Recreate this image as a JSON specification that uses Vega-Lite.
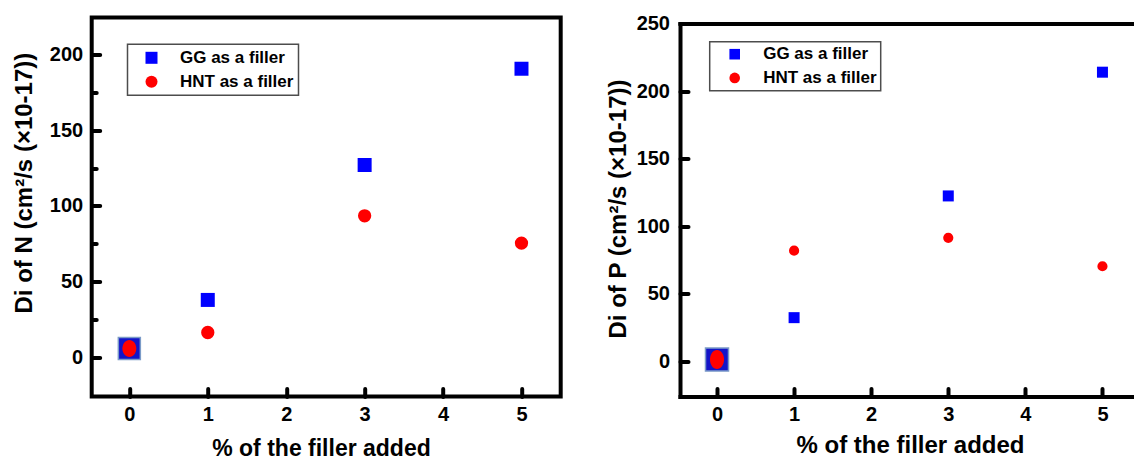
{
  "$schema": "https://vega.github.io/schema/vega-lite/v6.json",
  "autosize": {"type": "none"},
  "padding": {"left": 91.7, "top": 17.5, "right": 1042.3, "bottom": 441.5},
  "background": "white",
  "bounds": "flush",
  "spacing": 119.3,
  "config": {
    "font": "Liberation Sans",
    "view": {"stroke": null},
    "axis": {
      "labelFont": "Liberation Sans", "labelFontWeight": "bold", "labelFontSize": 20, "labelColor": "black",
      "titleFont": "Liberation Sans", "titleFontWeight": "bold", "titleColor": "black",
      "grid": false, "tickColor": "black", "domainColor": "black", "tickWidth": 4, "domainWidth": 4,
      "tickCap": "round", "domainCap": "square", "labelFlush": false, "labelOverlap": false
    },
    "legend": {
      "labelFont": "Liberation Sans", "labelFontWeight": "bold", "labelFontSize": 17, "labelColor": "black",
      "strokeWidth": 1.5
    }
  },
  "datasets": {
    "N": [
      {"pct": 0, "value": 6, "series": "GG as a filler"},
      {"pct": 1, "value": 38, "series": "GG as a filler"},
      {"pct": 3, "value": 127, "series": "GG as a filler"},
      {"pct": 5, "value": 190.5, "series": "GG as a filler"},
      {"pct": 0, "value": 6, "series": "HNT as a filler"},
      {"pct": 1, "value": 16.5, "series": "HNT as a filler"},
      {"pct": 3, "value": 93.5, "series": "HNT as a filler"},
      {"pct": 5, "value": 75.5, "series": "HNT as a filler"}
    ],
    "P": [
      {"pct": 0, "value": 1.5, "series": "GG as a filler"},
      {"pct": 1, "value": 32.5, "series": "GG as a filler"},
      {"pct": 3, "value": 122.5, "series": "GG as a filler"},
      {"pct": 5, "value": 214, "series": "GG as a filler"},
      {"pct": 0, "value": 1.5, "series": "HNT as a filler"},
      {"pct": 1, "value": 82, "series": "HNT as a filler"},
      {"pct": 3, "value": 91.5, "series": "HNT as a filler"},
      {"pct": 5, "value": 70.5, "series": "HNT as a filler"}
    ]
  },
  "resolve": {
    "scale": {"color": "independent", "shape": "independent", "size": "independent"},
    "legend": {"color": "independent", "shape": "independent"}
  },
  "hconcat": [
    {
      "width": 469,
      "height": 379,
      "data": {"name": "N"},
      "view": {"stroke": "black", "strokeWidth": 4},
      "mark": {"type": "point", "filled": true, "opacity": 1},
      "encoding": {
        "x": {
          "field": "pct", "type": "quantitative",
          "scale": {"domain": [-0.48, 5.5], "nice": false, "zero": false},
          "axis": {
            "values": [0, 0.5, 1, 1.5, 2, 2.5, 3, 3.5, 4, 4.5, 5],
            "format": "d",
            "labelExpr": "datum.value % 1 === 0 ? datum.label : ''",
            "tickSize": {"condition": {"test": "datum.value % 1 === 0", "value": -8}, "value": -4.5},
            "labelPadding": 16, "domain": false,
            "title": "% of the filler added", "titleFontSize": 23,
            "titleX": 229.3, "titleY": 58.5, "titleBaseline": "alphabetic", "titleAlign": "center"
          }
        },
        "y": {
          "field": "value", "type": "quantitative",
          "scale": {"domain": [-25.7, 224.3], "nice": false, "zero": false},
          "axis": {
            "values": [0, 25, 50, 75, 100, 125, 150, 175, 200],
            "labelExpr": "datum.value % 50 === 0 ? datum.label : ''",
            "tickSize": {"condition": {"test": "datum.value % 50 === 0", "value": -8}, "value": -4.5},
            "labelPadding": 17, "domain": false,
            "title": "Di of N (cm²/s (×10-17))", "titleFontSize": 24,
            "titleX": -67.5, "titleY": 165.1, "titleBaseline": "middle", "titleAlign": "center", "titleAngle": 270
          }
        },
        "color": {
          "field": "series", "type": "nominal",
          "scale": {"domain": ["GG as a filler", "HNT as a filler"], "range": ["#0000ff", "#ff0000"]},
          "condition": {"test": "datum.pct === 0 && datum.series === 'GG as a filler'", "value": "#1414c8"},
          "legend": {
            "title": null, "orient": "none", "legendX": 35.8, "legendY": 26.8,
            "strokeColor": "#4d4d4d", "padding": 5, "symbolOffset": 10.5,
            "labelOffset": 20, "rowPadding": 6, "symbolSize": 144, "symbolStrokeWidth": 0
          }
        },
        "shape": {
          "field": "series", "type": "nominal",
          "scale": {"domain": ["GG as a filler", "HNT as a filler"], "range": ["square", "circle"]},
          "condition": {"test": "datum.pct === 0 && datum.series === 'HNT as a filler'", "value": "M -0.82 0 A 0.82 1 0 1 0 0.82 0 A 0.82 1 0 1 0 -0.82 0 Z"},
          "legend": {
            "title": null, "orient": "none", "legendX": 35.8, "legendY": 26.8,
            "strokeColor": "#4d4d4d", "padding": 5, "symbolOffset": 10.5,
            "labelOffset": 20, "rowPadding": 6, "symbolSize": 144, "symbolStrokeWidth": 0
          }
        },
        "size": {
          "condition": [
            {"test": "datum.pct === 0 && datum.series === 'GG as a filler'", "value": 484},
            {"test": "datum.pct === 0", "value": 289},
            {"test": "datum.series === 'GG as a filler'", "value": 196}
          ],
          "value": 177
        },
        "stroke": {
          "condition": {"test": "datum.pct === 0 && datum.series === 'GG as a filler'", "value": "#7b9bc8"},
          "value": null
        },
        "strokeWidth": {
          "condition": {"test": "datum.pct === 0 && datum.series === 'GG as a filler'", "value": 1.5},
          "value": 0
        }
      }
    },
    {
      "width": 461,
      "height": 379,
      "data": {"name": "P"},
      "resolve": {"axis": {"x": "independent"}},
      "layer": [
        {
          "mark": {"type": "point", "filled": true, "opacity": 1},
          "encoding": {
            "x": {
              "field": "pct", "type": "quantitative",
              "scale": {"domain": [-0.48, 5.5], "nice": false, "zero": false},
              "axis": {
                "orient": "bottom",
                "values": [0, 0.5, 1, 1.5, 2, 2.5, 3, 3.5, 4, 4.5, 5],
                "format": "d",
                "labelExpr": "datum.value % 1 === 0 ? datum.label : ''",
                "tickSize": {"condition": {"test": "datum.value % 1 === 0", "value": -8}, "value": -4.5},
                "labelPadding": 15.5, "domain": true,
                "title": "% of the filler added", "titleFontSize": 24,
                "titleX": 230, "titleY": 55.5, "titleBaseline": "alphabetic", "titleAlign": "center"
              }
            },
            "y": {
              "field": "value", "type": "quantitative",
              "scale": {"domain": [-25.8, 250], "range": [379, 6], "nice": false, "zero": false},
              "axis": {
                "values": [0, 25, 50, 75, 100, 125, 150, 175, 200, 225, 250],
                "labelExpr": "datum.value % 50 === 0 ? datum.label : ''",
                "tickSize": {"condition": {"test": "datum.value % 50 === 0", "value": -8}, "value": -4.5},
                "labelPadding": 18.5, "domain": true,
                "title": "Di of P (cm²/s (×10-17))", "titleFontSize": 24,
                "titleX": -61.2, "titleY": 191, "titleBaseline": "middle", "titleAlign": "center", "titleAngle": 270
              }
            },
            "color": {
              "field": "series", "type": "nominal",
              "scale": {"domain": ["GG as a filler", "HNT as a filler"], "range": ["#0000ff", "#ff0000"]},
              "condition": {"test": "datum.pct === 0 && datum.series === 'GG as a filler'", "value": "#1414c8"},
              "legend": {
                "title": null, "orient": "none", "legendX": 29.7, "legendY": 24.2,
                "strokeColor": "#4d4d4d", "padding": 4, "symbolOffset": 12.5,
                "labelOffset": 20, "rowPadding": 5.7, "symbolSize": 112, "symbolStrokeWidth": 0
              }
            },
            "shape": {
              "field": "series", "type": "nominal",
              "scale": {"domain": ["GG as a filler", "HNT as a filler"], "range": ["square", "circle"]},
              "condition": {"test": "datum.pct === 0 && datum.series === 'HNT as a filler'", "value": "M -0.74 0 A 0.74 1 0 1 0 0.74 0 A 0.74 1 0 1 0 -0.74 0 Z"},
              "legend": {
                "title": null, "orient": "none", "legendX": 29.7, "legendY": 24.2,
                "strokeColor": "#4d4d4d", "padding": 4, "symbolOffset": 12.5,
                "labelOffset": 20, "rowPadding": 5.7, "symbolSize": 112, "symbolStrokeWidth": 0
              }
            },
            "size": {
              "condition": [
                {"test": "datum.pct === 0 && datum.series === 'GG as a filler'", "value": 529},
                {"test": "datum.pct === 0", "value": 361},
                {"test": "datum.series === 'GG as a filler'", "value": 121}
              ],
              "value": 104
            },
            "stroke": {
              "condition": {"test": "datum.pct === 0 && datum.series === 'GG as a filler'", "value": "#7b9bc8"},
              "value": null
            },
            "strokeWidth": {
              "condition": {"test": "datum.pct === 0 && datum.series === 'GG as a filler'", "value": 1.5},
              "value": 0
            }
          }
        },
        {
          "mark": {"type": "point", "opacity": 0},
          "encoding": {
            "x": {
              "field": "pct", "type": "quantitative",
              "axis": {"orient": "top", "domain": true, "ticks": false, "labels": false, "title": null, "offset": -6}
            },
            "y": {"field": "value", "type": "quantitative"}
          }
        }
      ]
    }
  ]
}
